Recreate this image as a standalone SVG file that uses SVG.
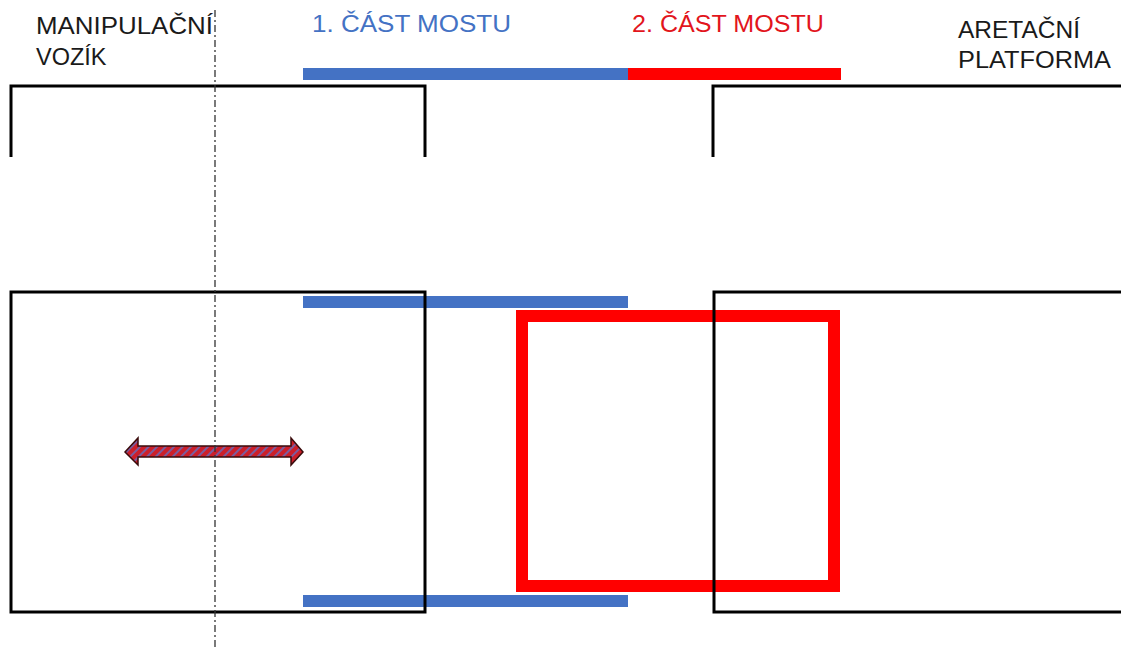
<svg xmlns="http://www.w3.org/2000/svg" width="1121" height="653" viewBox="0 0 1121 653">
  <style>
    .lbl { font-family: "Liberation Sans", Arial, sans-serif; font-size: 23.5px; }
    .blk { fill: #1a1a1a; }
    .blue { fill: #4472C4; }
    .redt { fill: #E2151C; }
    .frame { fill: none; stroke: #000; stroke-width: 3; stroke-linejoin: miter; stroke-linecap: butt; }
    .bbar { stroke: #4472C4; stroke-width: 12; fill: none; }
    .rbar { stroke: #FF0000; stroke-width: 12; fill: none; }
  </style>
  <defs>
    <pattern id="hatch" patternUnits="userSpaceOnUse" width="6" height="6" patternTransform="rotate(45)">
      <rect x="0" y="0" width="6" height="6" fill="#CC1F2A"/>
      <rect x="0" y="0" width="2" height="6" fill="#7B5C9E"/>
    </pattern>
  </defs>
  <rect width="1121" height="653" fill="#ffffff"/>

  <g id="labels">
    <text class="lbl blk" x="36" y="34" textLength="177" lengthAdjust="spacingAndGlyphs">MANIPULAČNÍ</text>
    <text class="lbl blk" x="36" y="65">VOZÍK</text>
    <text class="lbl blue" x="312" y="32" textLength="199" lengthAdjust="spacingAndGlyphs">1. ČÁST MOSTU</text>
    <text class="lbl redt" x="632" y="32" textLength="192" lengthAdjust="spacingAndGlyphs">2. ČÁST MOSTU</text>
    <text class="lbl blk" x="958" y="38" textLength="122" lengthAdjust="spacingAndGlyphs">ARETAČNÍ</text>
    <text class="lbl blk" x="958" y="68" textLength="153" lengthAdjust="spacingAndGlyphs">PLATFORMA</text>
  </g>

  <g id="top-view">
    <line class="bbar" x1="303" y1="74" x2="628" y2="74"/>
    <line class="rbar" x1="628" y1="74" x2="841" y2="74"/>
    <path id="vozik-top" class="frame" d="M11,157 V86 H425 V157"/>
    <path id="platforma-top" class="frame" d="M713,157 V86 H1121"/>
  </g>

  <g id="plan-view">
    <line id="most1-upper" class="bbar" x1="303" y1="302" x2="628" y2="302"/>
    <line id="most1-lower" class="bbar" x1="303" y1="601" x2="628" y2="601"/>
    <rect id="most2" x="522" y="316" width="312" height="270" fill="none" stroke="#FF0000" stroke-width="12"/>
    <path id="vozik" class="frame" d="M11,292 H425 V612 H11 Z"/>
    <path id="platforma" class="frame" d="M1121,292 H714 V612 H1121"/>
  </g>

  <g id="connectors">
    <path id="move-arrow" d="M125,452 L138,438 L138,446 L291,446 L291,438 L303,452 L291,465 L291,457 L138,457 L138,465 Z" fill="url(#hatch)" stroke="#3a0a0a" stroke-width="1.5" stroke-linejoin="miter"/>
    <line id="axis" x1="215" y1="10" x2="215" y2="650" stroke="#333" stroke-width="1.3" stroke-dasharray="7 3 2 3"/>
  </g>
</svg>
